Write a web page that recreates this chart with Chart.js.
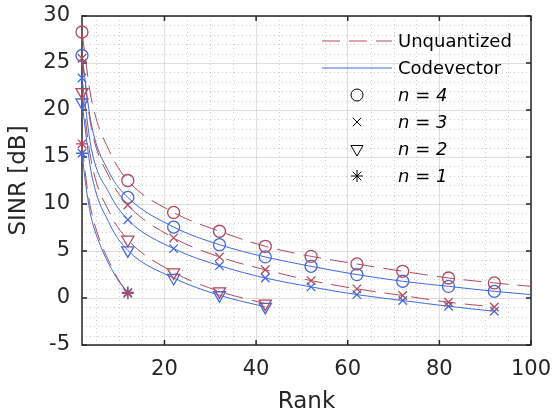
<!DOCTYPE html>
<html>
<head>
<meta charset="utf-8">
<script src="https://cdn.jsdelivr.net/npm/chart.js@4.4.0/dist/chart.umd.min.js"></script>
<style>
  html, body { margin: 0; padding: 0; background: #fff; }
  canvas { display: block; }
</style>
</head>
<body>
<canvas id="sinrChart" width="553" height="416"></canvas>
<script>
// SINR vs rank

const markerRanks = [2, 12, 22, 32, 42, 52, 62, 72, 82, 92];

// values at the marker ranks
const unquant4 = [28.3, 12.5, 9.1, 7.1, 5.5, 4.43, 3.62, 2.84, 2.13, 1.6];
const codevec4 = [25.8, 10.7, 7.55, 5.67, 4.37, 3.37, 2.49, 1.78, 1.24, 0.71];
const unquant3 = [25.5, 9.9, 6.4, 4.37, 3.0, 1.85, 0.97, 0.26, -0.45, -0.95];
const codevec3 = [23.4, 8.33, 5.25, 3.44, 2.13, 1.18, 0.36, -0.27, -0.88, -1.41];
const unquant2 = [21.9, 6.2, 2.73, 0.71, -0.6];
const codevec2 = [20.8, 5.07, 2.13, 0.29, -0.95];
const unquant1 = [16.4, 0.5];
const codevec1 = [15.4, 0.6];

// extra points (rank, SINR)
const unquant4Curve = [[4, 21.3], [8, 15.6], [100, 1.24]];
const codevec4Curve = [[4, 18.6], [8, 13.3], [100, 0.36]];
const unquant3Curve = [[4, 18.2], [8, 12.8]];
const codevec3Curve = [[4, 16.0], [8, 11.1]];
const unquant2Curve = [[4, 14.6], [8, 9.1]];
const codevec2Curve = [[4, 13.4], [8, 7.9]];
const unquant1Curve = [[3, 12.2], [4, 9.3], [6, 6.0], [8, 3.8], [10, 1.9]];
const codevec1Curve = [[3, 11.4], [4, 8.6], [6, 5.6], [8, 3.5], [10, 1.8]];

const xTicks = [20, 40, 60, 80, 100];
const yTicks = [-5, 0, 5, 10, 15, 20, 25, 30];

const red = '#B24A5C';
const blue = '#4169E1';
const ink = '#262626';
const fontFamily = "'DejaVu Sans', 'Liberation Sans', Arial, sans-serif";

function curve(values, extra) {
    const pts = values.map((v, i) => ({ x: markerRanks[i], y: v }));
    extra.forEach(p => pts.push({ x: p[0], y: p[1] }));
    return pts.sort((a, b) => a.x - b.x);
}

function series(label, values, extra, color, dashed, style) {
    return {
        label: label,
        data: curve(values, extra),
        borderColor: color,
        borderWidth: 1,
        borderDash: dashed ? [18, 9] : [],
        cubicInterpolationMode: 'monotone',
        fill: false,
        clip: false,
        pointStyle: style,
        pointRotation: style === 'triangle' ? 180 : 0,
        pointRadius: ctx => (ctx.raw && markerRanks.includes(ctx.raw.x)) ? (style === 'triangle' ? 7 : 6) : 0,
        pointHoverRadius: 0,
        pointBorderColor: color,
        pointBackgroundColor: 'rgba(0,0,0,0)',
        pointBorderWidth: 1.3,
    };
}

const legendRows = [
    { text: 'Unquantized', line: red, dash: [18, 9] },
    { text: 'Codevector', line: blue, dash: [] },
    { text: 'n = 4', style: 'circle' },
    { text: 'n = 3', style: 'crossRot' },
    { text: 'n = 2', style: 'triangle' },
    { text: 'n = 1', style: 'star' },
];

function marker(ctx, style, x, y) {
    const r = style === 'triangle' ? 7 : 6;
    if (Chart.helpers && Chart.helpers.drawPoint) {
        Chart.helpers.drawPoint(ctx, { pointStyle: style, radius: r, rotation: style === 'triangle' ? 180 : 0, borderWidth: 1.3 }, x, y);
    }
}

const frame = {
    id: 'frame',
    beforeDraw(chart) {
        const { ctx, chartArea: a, scales: { x, y } } = chart;
        ctx.save();
        ctx.fillStyle = '#fff';
        ctx.fillRect(0, 0, chart.width, chart.height);
        // minor grid
        ctx.strokeStyle = 'rgba(38,38,38,0.22)';
        ctx.lineWidth = 1;
        ctx.setLineDash([1, 3]);
        ctx.beginPath();
        for (let r = 5; r < 100; r += 5) {
            if (r % 20 === 0) continue;
            const px = Math.round(x.getPixelForValue(r)) + 0.5;
            ctx.moveTo(px, a.top);
            ctx.lineTo(px, a.bottom);
        }
        for (let v = -4; v < 30; v++) {
            if (v % 5 === 0) continue;
            const py = Math.round(y.getPixelForValue(v)) + 0.5;
            ctx.moveTo(a.left, py);
            ctx.lineTo(a.right, py);
        }
        ctx.stroke();
        ctx.restore();
    },
    beforeDatasetsDraw(chart) {
        const { ctx, chartArea: a, scales: { x, y } } = chart;
        ctx.save();
        ctx.strokeStyle = ink;
        ctx.lineWidth = 1.5;
        ctx.strokeRect(a.left, a.top, a.right - a.left, a.bottom - a.top);
        ctx.beginPath();
        xTicks.forEach(t => {
            const px = x.getPixelForValue(t);
            ctx.moveTo(px, a.bottom); ctx.lineTo(px, a.bottom - 5);
            ctx.moveTo(px, a.top); ctx.lineTo(px, a.top + 5);
        });
        yTicks.forEach(t => {
            const py = y.getPixelForValue(t);
            ctx.moveTo(a.left, py); ctx.lineTo(a.left + 5, py);
            ctx.moveTo(a.right, py); ctx.lineTo(a.right - 5, py);
        });
        ctx.stroke();
        ctx.restore();
    },
    afterDatasetsDraw(chart) {
        const ctx = chart.ctx;
        ctx.save();
        ctx.textBaseline = 'middle';
        ctx.textAlign = 'left';
        legendRows.forEach((row, i) => {
            const ry = 41 + i * 27;
            if (row.line) {
                ctx.strokeStyle = row.line;
                ctx.lineWidth = 1;
                ctx.setLineDash(row.dash);
                ctx.beginPath();
                ctx.moveTo(322, ry);
                ctx.lineTo(392, ry);
                ctx.stroke();
                ctx.setLineDash([]);
                ctx.font = '18px ' + fontFamily;
            } else {
                ctx.strokeStyle = '#000';
                ctx.fillStyle = 'rgba(0,0,0,0)';
                marker(ctx, row.style, 357, ry);
                ctx.font = 'italic 18px ' + fontFamily;
            }
            ctx.fillStyle = '#000';
            ctx.fillText(row.text, 398, ry + 1);
        });
        ctx.restore();
    }
};

new Chart(document.querySelector('#sinrChart'), {
    type: 'line',
    data: {
        datasets: [
            series('Unquantized n=4', unquant4, unquant4Curve, red, true, 'circle'),
            series('Unquantized n=3', unquant3, unquant3Curve, red, true, 'crossRot'),
            series('Unquantized n=2', unquant2, unquant2Curve, red, true, 'triangle'),
            series('Unquantized n=1', unquant1, unquant1Curve, red, true, 'star'),
            series('Codevector n=4', codevec4, codevec4Curve, blue, false, 'circle'),
            series('Codevector n=3', codevec3, codevec3Curve, blue, false, 'crossRot'),
            series('Codevector n=2', codevec2, codevec2Curve, blue, false, 'triangle'),
            series('Codevector n=1', codevec1, codevec1Curve, blue, false, 'star'),
        ]
    },
    options: {
        responsive: false,
        animation: false,
        events: [],
        layout: { padding: { top: 16, right: 22, bottom: 0, left: 0 } },
        plugins: { legend: { display: false }, tooltip: { enabled: false } },
        scales: {
            x: {
                type: 'linear',
                min: 2,
                max: 100,
                afterBuildTicks: s => { s.ticks = xTicks.map(v => ({ value: v })); },
                afterFit: s => { s.height = 71; s.paddingRight = 0; s.paddingLeft = 0; },
                ticks: { padding: 12, maxRotation: 0, autoSkip: false, color: ink, font: { family: fontFamily, size: 21 } },
                grid: { color: 'rgba(38,38,38,0.15)', drawTicks: false },
                border: { display: false },
                title: { display: true, text: 'Rank', color: ink, font: { family: fontFamily, size: 23 }, padding: { top: 1, bottom: 0 } }
            },
            y: {
                type: 'linear',
                min: -5,
                max: 30,
                afterBuildTicks: s => { s.ticks = yTicks.map(v => ({ value: v })); },
                afterFit: s => { s.width = 82; s.paddingTop = 0; s.paddingBottom = 0; },
                ticks: { padding: 12, color: ink, font: { family: fontFamily, size: 21 } },
                grid: { color: 'rgba(38,38,38,0.15)', drawTicks: false },
                border: { display: false },
                title: { display: true, text: 'SINR [dB]', color: ink, font: { family: fontFamily, size: 23 }, padding: { top: 5, bottom: 0 } }
            }
        }
    },
    plugins: [frame]
});
</script>
</body>
</html>
